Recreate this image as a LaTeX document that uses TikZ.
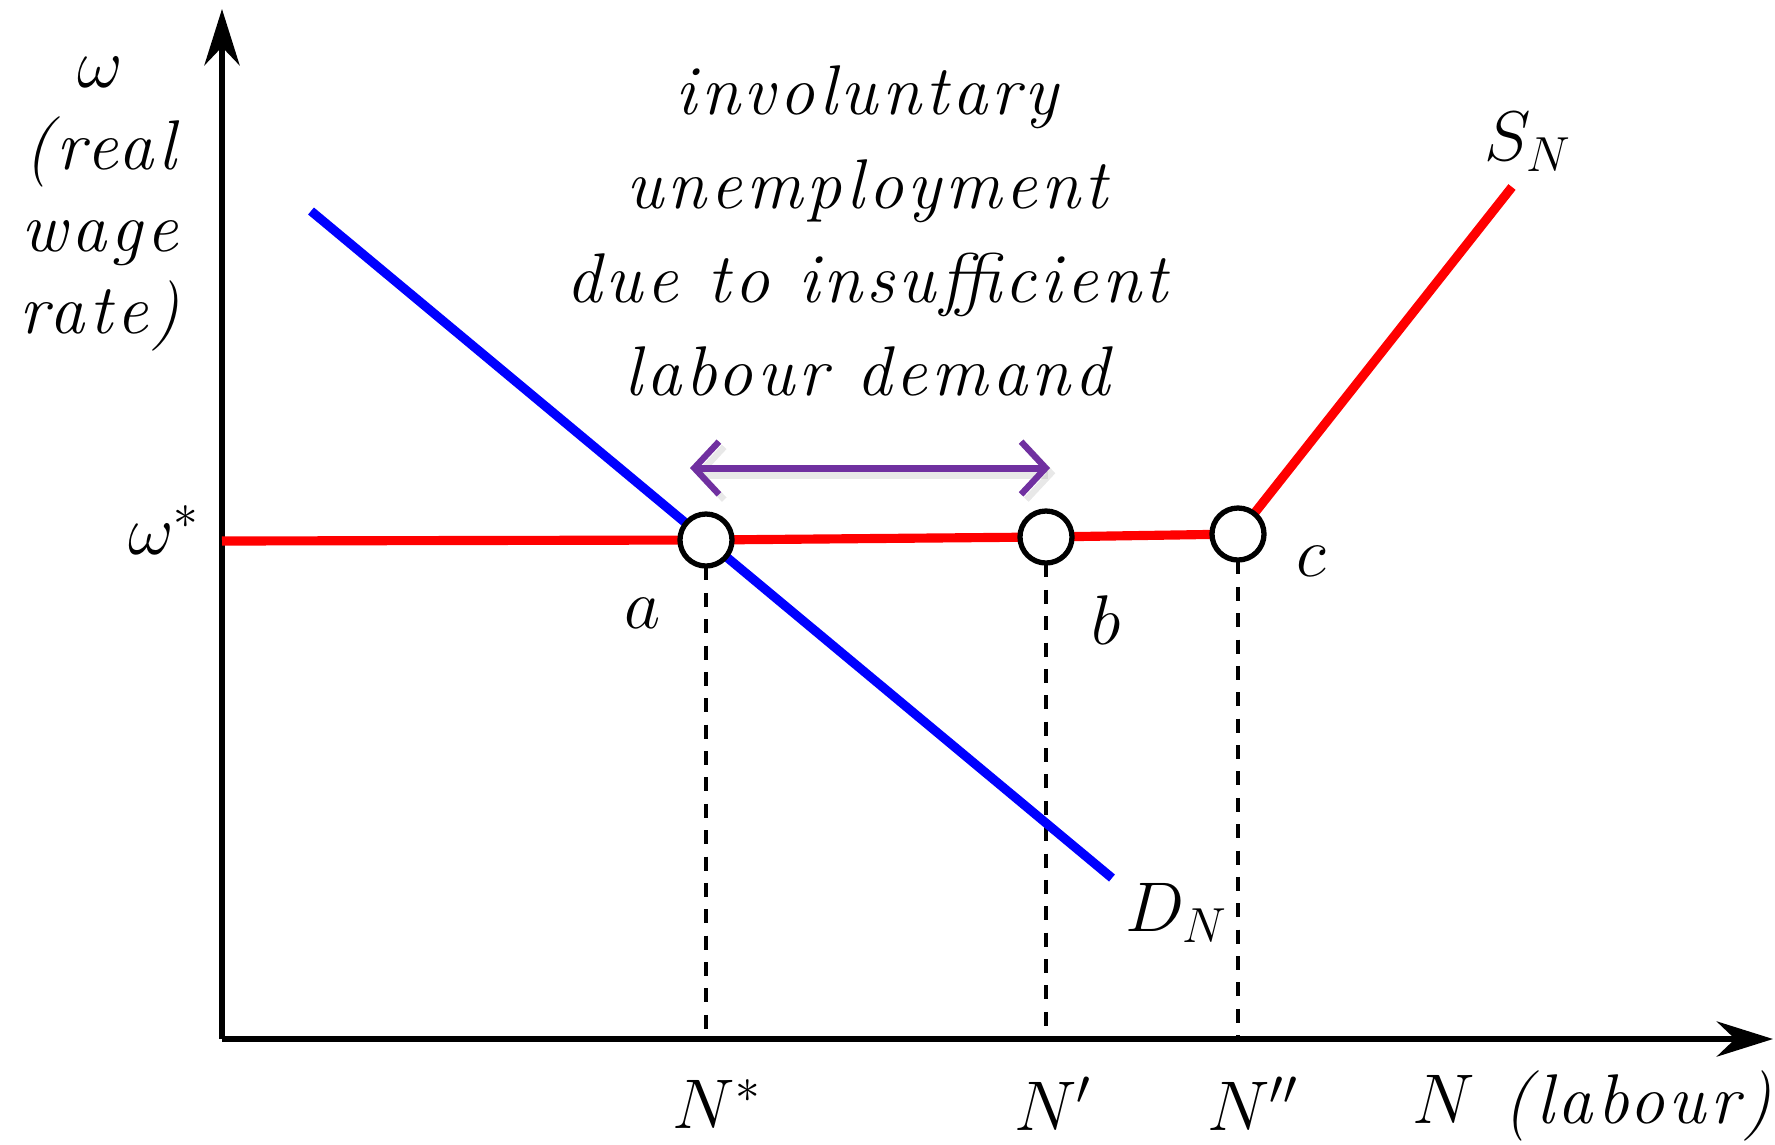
\documentclass[tikz,border=0pt]{standalone}
\usepackage{fix-cm}
\usepackage{amsmath,amssymb}
\usepackage{fontspec}
\setmainfont{Latin Modern Roman}[LetterSpace=6.0]
\usepackage{xcolor}
\usepackage{tikz}
\usetikzlibrary{positioning,arrows.meta,calc}
\definecolor{WageRed}{HTML}{FF0000}
\definecolor{DemBlue}{HTML}{0000FF}
\definecolor{GapPurple}{HTML}{7030A0}
\tikzset{
  lbl/.style={font=\fontsize{20}{24}\selectfont\itshape,inner sep=2pt},
  axis/.style={-{Stealth[length=16pt,width=10pt]},line width=1.7pt},
  supply/.style={WageRed,line width=2.6pt},
  demand/.style={DemBlue,line width=2.6pt},
  guide/.style={dash pattern=on 4pt off 3.5pt,line width=0.9pt},
  eqpt/.style={circle,draw,fill=white,line width=1.5pt,minimum size=0.52cm,inner sep=0pt},
  gap/.style={{Straight Barb[length=7pt,width=15pt,line width=1.8pt]}-{Straight Barb[length=7pt,width=15pt,line width=1.8pt]},GapPurple,line width=2pt,
    preaction={draw=black!45,opacity=0.2,line width=3.5pt,transform canvas={xshift=1.5pt,yshift=-1.5pt}}}
}
\begin{document}
\begin{tikzpicture}[x=0.01cm,y=-0.01cm]
\useasboundingbox (0,0) rectangle (1775,1144);

% axes
\coordinate (o) at (222,1039);
\coordinate (ytop) at (222,9);
\coordinate (xend) at (1773,1039);
\draw[axis] (o) -- (ytop);
\draw[axis] (o) -- (xend);

% points on the wage floor
\coordinate (pa) at (706,540);
\coordinate (pb) at (1046,537);
\coordinate (pc) at (1238,534);
\coordinate (w0) at (222,541);
\coordinate (sn) at (1512,187);
\coordinate (d0) at (311,211);
\coordinate (dn) at (1112,878);

% guides down to the axis
\draw[guide] (pa) -- (pa |- o);
\draw[guide] (pb) -- (pb |- o);
\draw[guide] (pc) -- (pc |- o);

% curves
\draw[demand] (d0) -- (dn);
\draw[supply] (w0) -- (pa) -- (pb) -- (pc) -- (sn);

\node[eqpt] (a) at (pa) {};
\node[eqpt] (b) at (pb) {};
\node[eqpt] (c) at (pc) {};

% unemployment gap
\coordinate (g1) at (690,468);
\coordinate (g2) at (1050,468);
\draw[gap] (g1) -- (g2);

% labels
\node[lbl,align=center,font=\fontsize{20}{23.3}\selectfont\itshape] (ylab) at (100,204)
  {$\omega$\\(real\\wage\\rate)};
\node[lbl] (wstar) at (164,530) {$\omega^*$};
\node[lbl] (la) at (643,613) {$a$};
\node[lbl] (lb) at (1106,620) {$b$};
\node[lbl] (lc) at (1311,561) {$c$};
\node[lbl] (lsn) at (1528,142) {$S_N$};
\node[lbl] (ldn) at (1177,913) {$D_N$};
\node[lbl] (nstar) at (717,1104) {$N^*$};
\node[lbl] (nprime) at (1053,1104) {$N'$};
\node[lbl] (nsec) at (1253,1104) {$N''$};
\node[lbl] (nlab) at (1592,1106) {$N$ (labour)};
\node[lbl,align=center,font=\fontsize{20}{26.7}\selectfont\itshape] (title) at (867,231)
  {involuntary\\unemployment\\due to insufficient\\labour demand};
\end{tikzpicture}
\end{document}
